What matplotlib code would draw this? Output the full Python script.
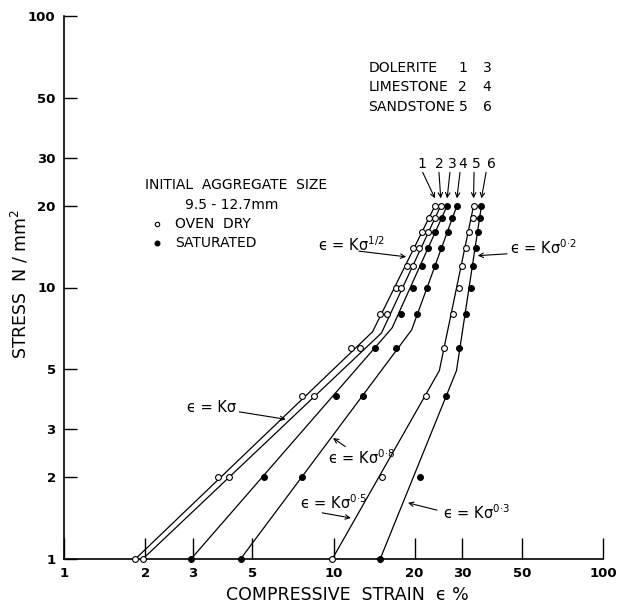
import matplotlib
matplotlib.use('Agg')
import matplotlib.pyplot as plt
from matplotlib.ticker import FixedLocator, FixedFormatter, NullLocator

plt.rcParams['font.family'] = ['DejaVu Sans']
plt.rcParams['mathtext.fontset'] = 'dejavusans'

# ---------------- data ----------------
stress = [1, 2, 4, 6, 8, 10, 12, 14, 16, 18, 20]

strain_1 = [1.84, 3.73, 7.66, 11.6, 14.9, 17.0, 18.7, 19.7, 21.3, 22.7, 23.8]   # dolerite, oven dry
strain_2 = [1.96, 4.11, 8.48, 12.5, 15.8, 17.8, 19.7, 20.8, 22.4, 23.9, 25.0]   # limestone, oven dry
strain_3 = [2.96, 5.53, 10.2, 14.3, 17.8, 19.7, 21.3, 22.4, 23.9, 25.2, 26.4]   # dolerite, saturated
strain_4 = [4.52, 7.61, 12.9, 17.1, 20.4, 22.3, 23.9, 25.0, 26.5, 27.5, 28.7]   # limestone, saturated
strain_5 = [9.9, 15.1, 22.1, 25.8, 27.7, 29.3, 30.1, 31.0, 31.8, 32.9, 33.1]    # sandstone, oven dry
strain_6 = [14.9, 20.9, 26.1, 29.2, 30.9, 32.4, 32.9, 33.8, 34.5, 35.1, 35.4]   # sandstone, saturated

# fitted (two-segment) lines: strain / stress vertices
fit_strain_1 = [1.84, 13.96, 23.8]
fit_stress_1 = [1, 6.87, 20]
fit_strain_2 = [1.96, 15.07, 25.0]
fit_stress_2 = [1, 6.80, 20]
fit_strain_3 = [2.96, 16.5, 26.4]
fit_stress_3 = [1, 7.10, 20]
fit_strain_4 = [4.52, 19.5, 28.7]
fit_stress_4 = [1, 6.98, 20]
fit_strain_5 = [9.9, 24.7, 33.1]
fit_stress_5 = [1, 4.94, 20]
fit_strain_6 = [14.9, 28.6, 35.4]
fit_stress_6 = [1, 4.94, 20]

curve_labels = ['1', '2', '3', '4', '5', '6']
saturated = [False, False, True, True, False, True]

x_ticks = [1, 2, 3, 5, 10, 20, 30, 50, 100]
x_tick_labels = ['1', '2', '3', '5', '10', '20', '30', '50', '100']
y_ticks = [1, 2, 3, 5, 10, 20, 30, 50, 100]
y_tick_labels = ['1', '2', '3', '5', '10', '20', '30', '50', '100']

exponents = ['1/2', '0·2', '', '0·8', '0·5', '0·3']

strains = [strain_1, strain_2, strain_3, strain_4, strain_5, strain_6]
fit_strains = [fit_strain_1, fit_strain_2, fit_strain_3, fit_strain_4, fit_strain_5, fit_strain_6]
fit_stresses = [fit_stress_1, fit_stress_2, fit_stress_3, fit_stress_4, fit_stress_5, fit_stress_6]

# ---------------- figure ----------------
fig = plt.figure(figsize=(6.17, 6.09), dpi=100)
ax = fig.add_axes([64 / 617, (609 - 559) / 609, 539 / 617, 543 / 609])
ax.set_xscale('log')
ax.set_yscale('log')
ax.set_xlim(1, 100)
ax.set_ylim(1, 100)

for fs, fy in zip(fit_strains, fit_stresses):
    ax.plot(fs, fy, color='black', lw=0.9, zorder=2, clip_on=False)

for s, sat in zip(strains, saturated):
    if sat:
        ax.plot(s, stress, ls='none', marker='o', ms=4.2, mfc='black', mec='black',
                mew=0.8, zorder=3, clip_on=False)
    else:
        ax.plot(s, stress, ls='none', marker='o', ms=4.2, mfc='white', mec='black',
                mew=0.8, zorder=3, clip_on=False)

for side in ['top', 'right']:
    ax.spines[side].set_visible(False)
for side in ['left', 'bottom']:
    ax.spines[side].set_linewidth(1.2)

ax.xaxis.set_major_locator(FixedLocator(x_ticks))
ax.xaxis.set_major_formatter(FixedFormatter(x_tick_labels))
ax.xaxis.set_minor_locator(NullLocator())
ax.yaxis.set_major_locator(FixedLocator(y_ticks))
ax.yaxis.set_major_formatter(FixedFormatter(y_tick_labels))
ax.yaxis.set_minor_locator(NullLocator())
ax.tick_params(axis='x', direction='in', length=15, width=1.0, pad=6, labelsize=9.5)
ax.tick_params(axis='y', direction='in', length=9.5, width=1.0, pad=6, labelsize=9.5)
for lab in ax.get_xticklabels() + ax.get_yticklabels():
    lab.set_fontweight('bold')

# axis titles
fig.text(347 / 617, (609 - 595) / 609, 'COMPRESSIVE  STRAIN  ϵ %', ha='center',
         va='center', fontsize=12.5)
fig.text(20 / 617, (609 - 284) / 609, 'STRESS  N / mm$^2$', ha='center', va='center',
         rotation=90, fontsize=12.5)

# key text
tkw = dict(transform=ax.transAxes, fontsize=10, va='center')
ax.text(0.565, 0.905, 'DOLERITE', ha='left', **tkw)
ax.text(0.565, 0.869, 'LIMESTONE', ha='left', **tkw)
ax.text(0.565, 0.833, 'SANDSTONE', ha='left', **tkw)
for row, (a, b) in zip([0.905, 0.869, 0.833], [('1', '3'), ('2', '4'), ('5', '6')]):
    ax.text(0.740, row, a, ha='center', **tkw)
    ax.text(0.785, row, b, ha='center', **tkw)

ax.text(0.150, 0.689, 'INITIAL  AGGREGATE  SIZE', ha='left', **tkw)
ax.text(0.2245, 0.652, '9.5 - 12.7mm', ha='left', **tkw)
ax.plot([0.172], [0.617], transform=ax.transAxes, marker='o', ms=3.2, mfc='white',
        mec='black', mew=0.8, ls='none')
ax.plot([0.172], [0.5825], transform=ax.transAxes, marker='o', ms=3.5, mfc='black',
        mec='black', mew=0.8, ls='none')
ax.text(0.206, 0.617, 'OVEN  DRY', ha='left', **tkw)
ax.text(0.206, 0.5825, 'SATURATED', ha='left', **tkw)

# numbered arrows to the top points
num_x = [0.6636, 0.6957, 0.7204, 0.739, 0.7656, 0.7926]
tail_x = [0.6655, 0.6957, 0.716, 0.7347, 0.7607, 0.783]
for lab, s, nx, tx in zip(curve_labels, strains, num_x, tail_x):
    ax.text(nx, 0.727, lab, ha='center', **tkw)
    ax.annotate('', xy=(s[-1], 21.3), xycoords='data', xytext=(tx, 0.712),
                textcoords='axes fraction',
                arrowprops=dict(arrowstyle='->', lw=0.8, color='black',
                                shrinkA=0, shrinkB=0, mutation_scale=8))

# equation labels with arrows
eq_pos = [(0.472, 0.578), (0.828, 0.574), (0.229, 0.279), (0.490, 0.186),
          (0.438, 0.103), (0.703, 0.085)]
eq_tail = [(0.547, 0.567), (0.822, 0.562), (0.325, 0.271), (0.522, 0.207),
           (0.479, 0.085), (0.692, 0.090)]
eq_head = [(18.6, 12.97), (34.3, 13.1), (6.65, 3.27), (9.96, 2.79), (11.6, 1.416),
           (18.9, 1.61)]
for ex, pos, tail, head in zip(exponents, eq_pos, eq_tail, eq_head):
    txt = 'ϵ = Kσ' + ('$^{\\mathregular{%s}}$' % ex if ex else '')
    ax.text(pos[0], pos[1], txt, transform=ax.transAxes, fontsize=10.5, ha='left',
            va='center')
    ax.annotate('', xy=head, xycoords='data', xytext=tail, textcoords='axes fraction',
                arrowprops=dict(arrowstyle='->', lw=0.8, color='black',
                                shrinkA=0, shrinkB=0, mutation_scale=8))

fig.savefig('out.png', dpi=100)
